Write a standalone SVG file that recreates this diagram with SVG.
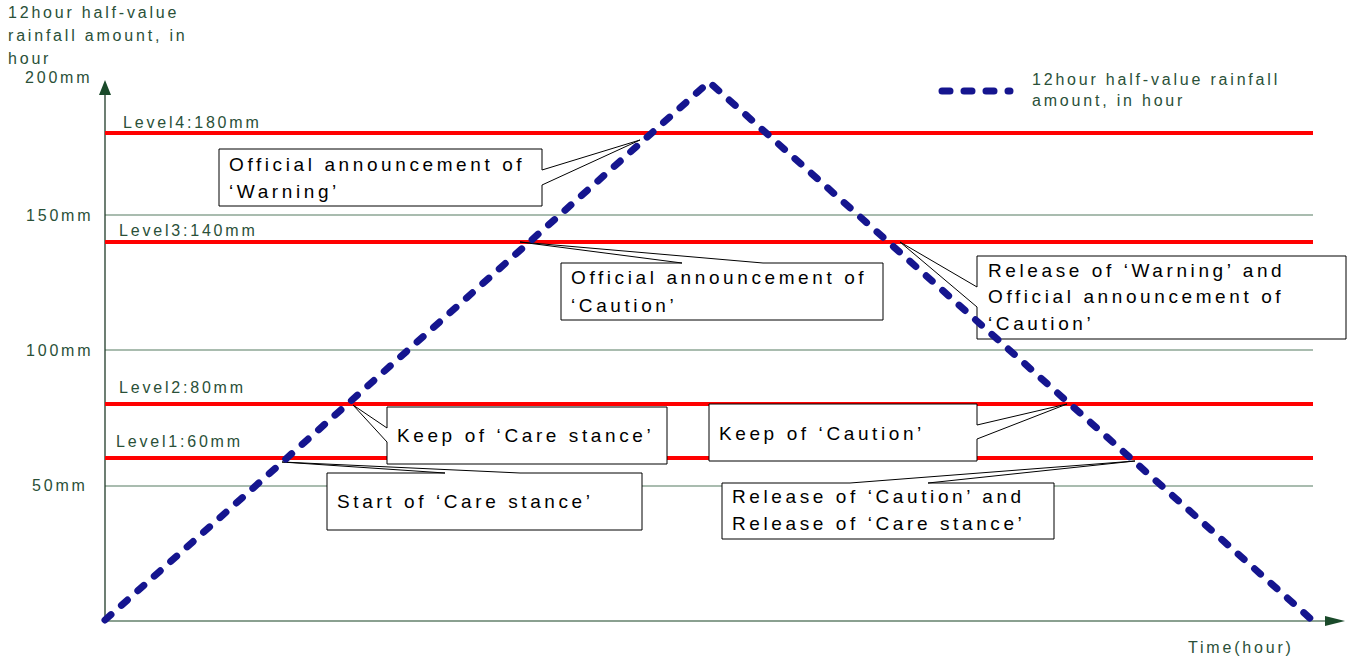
<svg xmlns="http://www.w3.org/2000/svg" width="1355" height="661" viewBox="0 0 1355 661">
<defs>
<style>
.lbl{font-family:"Liberation Sans",Arial,sans-serif;font-size:16px;letter-spacing:2.8px;fill:#2a5038}
.co{font-family:"Liberation Sans",Arial,sans-serif;font-size:19px;letter-spacing:3.6px;fill:#000}
.grid{stroke:#557a60;stroke-width:1.1;fill:none}
.lvl{stroke:#ff0000;stroke-width:4;fill:none}
.box{fill:#fff;stroke:#000;stroke-width:1}
.curve{stroke:#15158f;stroke-width:7;stroke-linecap:round;stroke-dasharray:8 14;fill:none}
</style>
</defs>
<rect width="1355" height="661" fill="#fff"/>
<g id="axes">
<line class="grid" x1="105" y1="215" x2="1313" y2="215"/>
<line class="grid" x1="105" y1="350" x2="1313" y2="350"/>
<line class="grid" x1="105" y1="486" x2="1313" y2="486"/>
<line x1="105" y1="621" x2="1328" y2="621" stroke="#8aa090" stroke-width="2"/>
<polygon points="1345,621 1325,616 1325,626" fill="#1a4a2a"/>
<line x1="105" y1="621" x2="105" y2="92" stroke="#1f3a28" stroke-width="1.3"/>
<polygon points="105,80 99,95 111,95" fill="#1a4a2a"/>
<text class="lbl" x="8" y="18">12hour half-value</text>
<text class="lbl" x="8" y="41">rainfall amount, in</text>
<text class="lbl" x="8" y="64">hour</text>
<text class="lbl" x="25" y="83">200mm</text>
<text class="lbl" x="26" y="221">150mm</text>
<text class="lbl" x="26" y="356">100mm</text>
<text class="lbl" x="32" y="491">50mm</text>
<text class="lbl" x="1188" y="653">Time(hour)</text>
</g>
<g id="levels">
<line class="lvl" x1="105" y1="133" x2="1313" y2="133"/>
<line class="lvl" x1="105" y1="242" x2="1313" y2="242"/>
<line class="lvl" x1="105" y1="404" x2="1313" y2="404"/>
<line class="lvl" x1="105" y1="458" x2="1313" y2="458"/>
<text class="lbl" x="123" y="128">Level4:180mm</text>
<text class="lbl" x="119" y="236">Level3:140mm</text>
<text class="lbl" x="119" y="393">Level2:80mm</text>
<text class="lbl" x="116" y="447">Level1:60mm</text>
</g>
<g id="connectors">
<g id="callout-warning">
<path class="box" d="M219,149 H542 V170 L640,140 L542,185 V206 H219 Z"/>
<text class="co" x="229" y="171">Official announcement of</text>
<text class="co" x="229" y="198">‘Warning’</text>
</g>
<g id="callout-caution">
<path class="box" d="M561,263 H682 L520,242 L763,263 H883 V320 H561 Z"/>
<text class="co" x="571" y="284">Official announcement of</text>
<text class="co" x="571" y="312">‘Caution’</text>
</g>
<g id="callout-release-warning">
<path class="box" d="M977,256 H1346 V339 H977 V307 L900,242 L977,287 Z"/>
<text class="co" x="988" y="277">Release of ‘Warning’ and</text>
<text class="co" x="988" y="303">Official announcement of</text>
<text class="co" x="988" y="330">‘Caution’</text>
</g>
<g id="callout-keep-care">
<path class="box" d="M387,407 H667 V464 H387 V442 L353,405 L387,428 Z"/>
<text class="co" x="397" y="442">Keep of ‘Care stance’</text>
</g>
<g id="callout-start-care">
<path class="box" d="M327,473 H445 L282,462 L520,473 H642 V530 H327 Z"/>
<text class="co" x="337" y="508">Start of ‘Care stance’</text>
</g>
<g id="callout-keep-caution">
<path class="box" d="M709,404 H977 V425 L1067,404 L977,439 V461 H709 Z"/>
<text class="co" x="719" y="440">Keep of ‘Caution’</text>
</g>
<g id="callout-release-caution">
<path class="box" d="M722,483 H850 L1135,461 L928,483 H1054 V539 H722 Z"/>
<text class="co" x="732" y="503">Release of ‘Caution’ and</text>
<text class="co" x="732" y="530">Release of ‘Care stance’</text>
</g>
</g>
<g id="series">
<polyline class="curve" points="105,620 709,82 1312,620"/>
</g>
<g id="legend">
<line class="curve" x1="942" y1="91" x2="1010" y2="91"/>
<text class="lbl" x="1032" y="85">12hour half-value rainfall</text>
<text class="lbl" x="1032" y="106">amount, in hour</text>
</g>
</svg>
